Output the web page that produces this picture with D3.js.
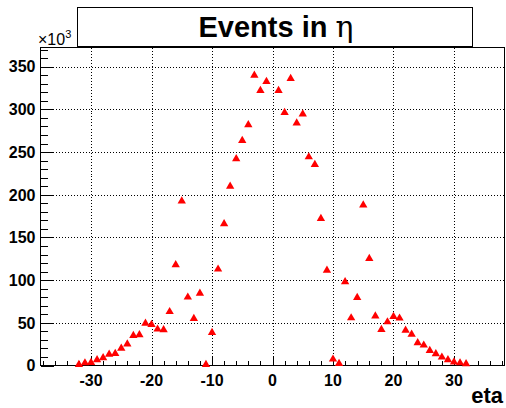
<!DOCTYPE html>
<html><head><meta charset="utf-8">
<script src="https://cdn.jsdelivr.net/npm/d3@7"></script>
<style>
html,body{margin:0;padding:0;background:#fff;}
svg{display:block;}
text{font-family:"Liberation Sans",Arial,Helvetica,sans-serif;}
</style></head>
<body>
<script>
// ---- data (values in units of 10^3 events) ----
const eta = [-32,-31,-30,-29,-28,-27,-26,-25,-24,-23,-22,-21,-20,-19,-18,-17,-16,-15,-14,-13,-12,-11,-10,-9,-8,-7,-6,-5,-4,-3,-2,-1,
             1,2,3,4,5,6,7,8,9,10,11,12,13,14,15,16,17,18,19,20,21,22,23,24,25,26,27,28,29,30,31,32];
const events = [1,3,3.5,6.6,9,13,14,20,25,35,36,49.5,48,42.5,41.7,63,118,192.7,80,55,84.5,1,38.6,112.8,166,210,242,263.5,281.8,340,322,332.6,
                322,296.3,336,284,294.6,244.3,235.4,172,111.6,7.4,2.3,98,55.7,79.6,188,125.3,58,42,51,57.4,55.4,41.3,36.6,26.5,23.8,17.5,13.6,9.7,6.6,3.9,3,1.9];
const xTicks = [-30,-20,-10,0,10,20,30];
const yTicks = [0,50,100,150,200,250,300,350];
const xDomain = [-38.35, 38.35];
const yDomain = [0, 372.5];
const titleText = "Events in ";
const titleSymbol = "η";
const xTitle = "eta";

const W = 506, H = 408;
const L = 40.5, R = 504.5, T = 47.5, B = 365.5;

const svg = d3.select("body").append("svg").attr("width", W).attr("height", H);

const x = d3.scaleLinear().domain(xDomain).range([L, R]);
const y = d3.scaleLinear().domain(yDomain).range([B, T]);

// grid
const grid = svg.append("g").attr("stroke", "#000").attr("stroke-width", 1)
  .attr("stroke-dasharray", "1,2").attr("shape-rendering", "crispEdges");
grid.selectAll("line.gx").data(xTicks).join("line")
  .attr("x1", d => Math.round(x(d)) + 0.5).attr("x2", d => Math.round(x(d)) + 0.5)
  .attr("y1", T).attr("y2", B);
grid.selectAll("line.gy").data(yTicks.filter(d => d > 0)).join("line")
  .attr("y1", d => Math.round(y(d)) + 0.5).attr("y2", d => Math.round(y(d)) + 0.5)
  .attr("x1", L).attr("x2", R);

// axes with ROOT-like inward ticks
const xMinor = d3.range(-38, 39, 2);
const yMinor = d3.range(0, 371, 10);
const ax = svg.append("g").attr("stroke", "#000").attr("stroke-width", 1).attr("shape-rendering", "crispEdges");
ax.selectAll("line.xm").data(xMinor).join("line")
  .attr("x1", d => Math.round(x(d)) + 0.5).attr("x2", d => Math.round(x(d)) + 0.5)
  .attr("y1", B).attr("y2", d => B - (xTicks.includes(d) ? 10 : 5));
ax.selectAll("line.ym").data(yMinor).join("line")
  .attr("y1", d => Math.round(y(d)) + 0.5).attr("y2", d => Math.round(y(d)) + 0.5)
  .attr("x1", L).attr("x2", d => L + (yTicks.includes(d) ? 13 : 7));

// frame
svg.append("rect").attr("x", L).attr("y", T).attr("width", R - L).attr("height", B - T)
  .attr("fill", "none").attr("stroke", "#000").attr("stroke-width", 1).attr("shape-rendering", "crispEdges");

// tick labels
svg.append("g").selectAll("text").data(xTicks).join("text")
  .attr("x", d => x(d)).attr("y", 386)
  .attr("text-anchor", "middle").attr("font-size", 16).attr("font-weight", "bold")
  .text(d => d < 0 ? "-" + Math.abs(d) : d);
svg.append("g").selectAll("text").data(yTicks).join("text")
  .attr("x", 35.5).attr("y", d => y(d)).attr("dy", "0.36em")
  .attr("text-anchor", "end").attr("font-size", 16).attr("font-weight", "bold")
  .text(d => d);

// exponent label
const ex = svg.append("text").attr("x", 38).attr("y", 45).attr("font-size", 16);
ex.append("tspan").text("×10");
ex.append("tspan").attr("font-size", 11).attr("dy", -7).text("3");

// x title
svg.append("text").attr("x", 503).attr("y", 403).attr("text-anchor", "end")
  .attr("font-size", 22).attr("font-weight", "bold").text(xTitle);

// title box
svg.append("rect").attr("x", 77.5).attr("y", 7.5).attr("width", 395).attr("height", 39)
  .attr("fill", "#fff").attr("stroke", "#000").attr("stroke-width", 1).attr("shape-rendering", "crispEdges");
const tt = svg.append("text").attr("x", 276).attr("y", 37).attr("text-anchor", "middle").attr("font-size", 29);
tt.append("tspan").attr("font-weight", "bold").text(titleText);
tt.append("tspan").attr("font-family", "'DejaVu Serif','Liberation Serif',serif").attr("font-size", 30).text(titleSymbol);

// markers
const pts = eta.map((e, i) => ({e, v: events[i]}));
svg.append("g").selectAll("path").data(pts).join("path")
  .attr("d", d3.symbol(d3.symbolTriangle, 30))
  .attr("transform", d => `translate(${x(d.e)},${y(d.v)})`)
  .attr("fill", "#ff0000");
</script>
</body></html>
